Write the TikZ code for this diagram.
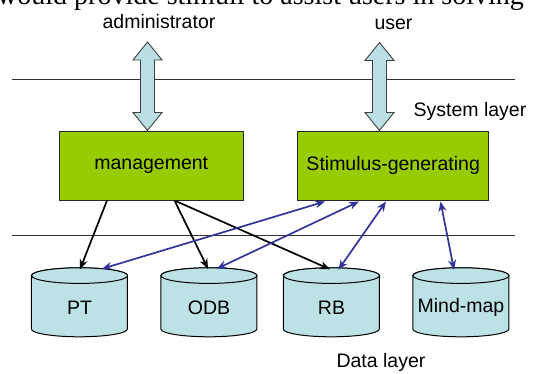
\documentclass[tikz,border=0pt]{standalone}
\usepackage{fontspec}
\setmainfont{Liberation Sans}
\newfontfamily\serifx{Liberation Serif}
\usetikzlibrary{calc,arrows.meta}
\definecolor{boxgreen}{HTML}{99CC00}
\definecolor{dbcyan}{HTML}{BCE2E5}
\definecolor{arrcyan}{HTML}{B9DFE4}
\definecolor{linkblue}{HTML}{333399}
\tikzset{
  lbl/.style={font=\fontsize{19.5}{22}\selectfont, inner sep=0pt},
  layerline/.style={draw=black!80, line width=1pt},
  modbox/.style={draw=black!85, line width=1pt, fill=boxgreen, inner sep=0pt,
                 minimum height=69pt, font=\fontsize{19.5}{22}\selectfont},
  dbnode/.style={inner sep=0pt, minimum width=96pt, minimum height=69pt},
  dbshape/.style={draw=black, line width=1pt, fill=dbcyan},
  bigarrow/.style={draw=black!75, line width=0.9pt, fill=arrcyan},
  mgarrow/.style={draw=black, line width=1.7pt, -{Stealth[length=10pt,width=8pt]}},
  bluearrow/.style={draw=linkblue, line width=1.7pt,
                    {Stealth[length=10pt,width=8pt]}-{Stealth[length=10pt,width=8pt]}}
}
\newcommand\dbdraw[1]{%
  \path[dbshape] ($(#1.north west)+(0,-7.8)$) -- ++(0,-53.4)
     arc[start angle=180,end angle=360,x radius=48,y radius=7.8]
     -- ++(0,53.4)
     arc[start angle=0,end angle=180,x radius=48,y radius=7.8] -- cycle;
  \path[dbshape] ($(#1.north)+(0,-7.8)$) ellipse[x radius=48,y radius=7.8];
}
\newcommand\dblarrow[2]{%
  \path[bigarrow] (#1) -- ++(14.5,-18) -- ++(-7.5,0)
     -- ($(#2)+(7,18)$) -- ++(7.5,0) -- (#2) -- ++(-14.5,18) -- ++(7.5,0)
     -- ($(#1)+(-7,-18)$) -- ++(-7.5,0) -- cycle;
}
\begin{document}
\begin{tikzpicture}[x=1pt,y=1pt]
\useasboundingbox (0,0) rectangle (534,373);
% clipped line of running text at the top
\node[anchor=base east, inner sep=0pt, font=\serifx\fontsize{28}{32}\selectfont] (toptext) at (524,368) {would provide stimuli to assist users in solving};
% layer lines
\coordinate (l1a) at (12,294); \coordinate (l1b) at (515,294);
\coordinate (l2a) at (12,138); \coordinate (l2b) at (515,138);
\draw[layerline] (l1a) -- (l1b);
\draw[layerline] (l2a) -- (l2b);
% actors and layer names
\node[lbl, anchor=base] (admin) at (159,344) {administrator};
\node[lbl, anchor=base] (user) at (393.5,343) {user};
\node[lbl, anchor=base] (syslayer) at (470,257) {System layer};
\node[lbl, anchor=base] (datalayer) at (381,6) {Data layer};
% modules
\node[modbox, minimum width=183.5pt] (mg) at (151.25,207.5) {management};
\node[modbox, minimum width=191.2pt] (sg) at (393.2,207.5) {Stimulus-generating};
% big double arrows
\coordinate (admtop) at (147.5,331);
\coordinate (usrtop) at (379.5,330.5);
\coordinate (admbot) at ($(mg.north)+(-3.75,0)$);
\coordinate (usrbot) at ($(sg.north)+(-13.7,0)$);
\dblarrow{admtop}{admbot}
\dblarrow{usrtop}{usrbot}
% databases
\node[dbnode] (PT) at (79.6,70.5) {};
\node[dbnode] (ODB) at (209,70.5) {};
\node[dbnode] (RB) at (331.5,70.5) {};
\node[dbnode] (MM) at (461,70.5) {};
\dbdraw{PT}\dbdraw{ODB}\dbdraw{RB}\dbdraw{MM}
\node[lbl] (PTl) at ($(PT)+(0,-5)$) {PT};
\node[lbl] (ODBl) at ($(ODB)+(0,-5)$) {ODB};
\node[lbl] (RBl) at ($(RB)+(0,-5)$) {RB};
\node[lbl] (MMl) at ($(MM)+(0,-5)$) {Mind-map};
% management links
\draw[mgarrow] ($(mg.south)+(-44.25,0)$) -- ($(PT.north)+(0.4,-1.5)$);
\draw[mgarrow] ($(mg.south)+(23.25,0)$) -- ($(ODB.north)+(-1,-1)$);
\draw[mgarrow] ($(mg.south)+(23.25,0)$) -- ($(RB.north)+(-1.5,-1.5)$);
% stimulus links
\draw[bluearrow] ($(PT.north)+(22.4,-1)$) -- ($(sg.south)+(-68.2,-1)$);
\draw[bluearrow] ($(ODB.north)+(7.7,-1)$) -- ($(sg.south)+(-34.2,-1)$);
\draw[bluearrow] ($(RB.north)+(6.9,-2)$) -- ($(sg.south)+(-7.2,-1)$);
\draw[bluearrow] ($(MM.north)+(-7,-2)$) -- ($(sg.south)+(47.3,-1)$);
\end{tikzpicture}
\end{document}
